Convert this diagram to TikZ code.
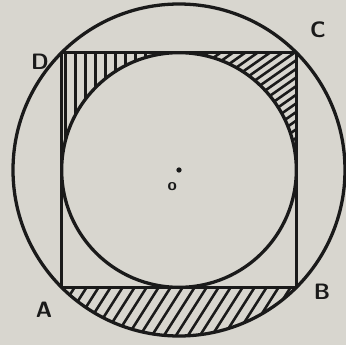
\documentclass[tikz,border=0pt]{standalone}
\usepackage{tikz}
\usetikzlibrary{positioning,calc}
\definecolor{papel}{HTML}{D8D6CF}
\definecolor{tinta}{HTML}{1A1A1A}
\tikzset{
  circulo/.style={draw=tinta,line width=2.8pt},
  lado/.style={draw=tinta,line width=2pt,line join=round},
  rayado/.style={draw=tinta,line width=2.2pt},
  vertice/.style={font=\sffamily\bfseries\fontsize{19}{22}\selectfont,text=tinta,inner sep=0pt},
  centro/.style={circle,fill=tinta,inner sep=0pt,minimum size=4.5pt}
}

\begin{document}
\begin{tikzpicture}
\fill[papel] (-5.37,-5.25) rectangle (5.01,5.1);
\useasboundingbox (-5.37,-5.25) rectangle (5.01,5.1);
\coordinate (O) at (0,0);
\coordinate (A) at (-3.52,-3.52);
\coordinate (B) at (3.52,-3.52);
\coordinate (C) at (3.52,3.52);
\coordinate (D) at (-3.52,3.52);
% esquina D: rayas verticales
\begin{scope}
\clip (D) -- (0,3.52) arc[start angle=90,end angle=180,radius=3.52] -- cycle;
\foreach \x in {-3.4,-3.1,...,-0.6} \draw[rayado] (\x,0) -- (\x,3.6);
\end{scope}
% esquina C
\begin{scope}
\clip (C) -- (3.52,0) arc[start angle=0,end angle=90,radius=3.52] -- cycle;
\foreach \c in {-6,-5.63,...,4} \draw[rayado] (\c-1,-0.7) -- (\c+6,4.2);
\end{scope}
% segmento AB
\begin{scope}
\clip (O) circle (4.98);
\clip (-5.2,-5.2) rectangle (5.2,-3.52);
\foreach \c in {-5.2,-4.84,...,5.2} \draw[rayado] (\c-0.8,-5.2) -- (\c+0.6,-3);
\end{scope}
\draw[circulo] (O) circle (4.98);
\draw[circulo] (O) circle (3.52);
\draw[lado] (A) -- (B) -- (C) -- (D) -- cycle;
\node[centro] (o) at (O) {};
\node[font=\sffamily\bfseries\Large,text=tinta,inner sep=0pt] (etiqO) at ($(o)+(-0.2,-0.5)$) {o};
\node[vertice] (etiqD) at (-4.17,3.24) {D};
\node[vertice] (etiqC) at (4.17,4.2) {C};
\node[vertice] (etiqB) at (4.29,-3.66) {B};
\node[vertice] (etiqA) at (-4.05,-4.2) {A};
\end{tikzpicture}
\end{document}
